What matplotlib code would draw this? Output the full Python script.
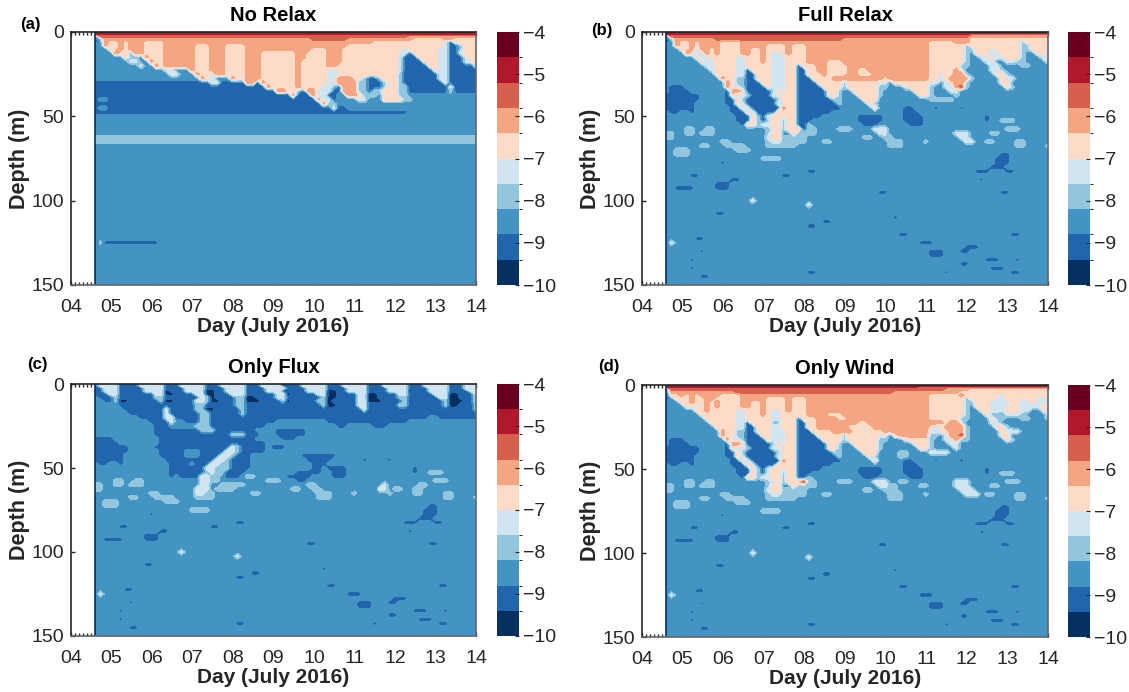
import numpy as np
import matplotlib
matplotlib.use("Agg")
import matplotlib.pyplot as plt
from matplotlib.colors import ListedColormap, BoundaryNorm
from matplotlib.ticker import FixedLocator

plt.rcParams['font.family'] = ['Liberation Sans', 'DejaVu Sans']

# contour bands, lowest first
COLORS = ['#053061', '#2166ac', '#4393c3', '#92c5de', '#d1e5f0',
          '#fddbc7', '#f4a582', '#d6604d', '#b2182b', '#67001f']
LEVELS = [-10, -9.4, -8.8, -8.2, -7.6, -7, -6.4, -5.8, -5.2, -4.6, -4]
CBAR_TICKS = [-10, -9, -8, -7, -6, -5, -4]
DAY_TICKS = [4, 5, 6, 7, 8, 9, 10, 11, 12, 13, 14]
DAY_LABELS = ['04', '05', '06', '07', '08', '09', '10', '11', '12', '13', '14']
DEPTH_TICKS = [0, 50, 100, 150]

DEPTHS = [0, 1, 2.5, 4, 6, 8, 10, 12.5, 15, 17.5, 20, 22.5, 25, 27.5, 30, 32.5, 35, 37.5, 40,
          42.5, 45, 47.5, 50, 52.5, 55, 57.5, 60, 62.5, 65, 67.5, 70, 72.5, 75, 77.5, 80, 82.5,
          85, 87.5, 90, 92.5, 95, 97.5, 100, 102.5, 105, 107.5, 110, 112.5, 115, 117.5, 120,
          122.5, 125, 127.5, 130, 132.5, 135, 137.5, 140, 142.5, 145, 147.5, 150]
DAY_START = 4.6
DAY_END = 14
N_COLS = 76

# Each row reads "band:end_column". Rows not listed are all band 2.
DEEP_ROWS = {
    70: "2:2 3:5 2:14 3:17 2:76",
    72.5: "2:2 3:5 2:66 1:68 2:76",
    75: "2:19 3:23 2:65 1:68 2:76",
    77.5: "2:11 1:12 2:65 1:68 2:76",
    80: "2:64 1:67 2:76",
    82.5: "2:28 1:30 2:61 1:64 2:67 1:69 2:76",
    85: "2:5 1:7 2:23 1:25 2:76",
    87.5: "2:13 1:15 2:62 1:63 2:76",
    90: "2:10 1:13 2:76",
    92.5: "2:2 1:6 2:10 1:13 2:76",
    95: "2:42 1:44 2:66 1:68 2:76",
    100: "2:17 4:18 2:76",
    102.5: "2:28 4:29 2:76",
    107.5: "2:10 1:12 2:76",
    110: "2:45 1:46 2:76",
    112.5: "2:31 1:33 2:76",
    115: "2:28 1:30 2:76",
    120: "2:46 1:48 2:68 1:70 2:76",
    122.5: "2:6 1:8 2:76",
    125: "1:1 4:2 2:50 1:53 2:75 1:76",
    127.5: "2:59 1:62 2:76",
    130: "2:7 1:8 2:52 1:55 2:58 1:60 2:76",
    132.5: "2:52 1:55 2:76",
    135: "2:5 1:6 2:63 1:66 2:69 1:70 2:76",
    137.5: "2:58 1:60 2:76",
    140: "2:5 1:6 2:64 1:67 2:76",
    142.5: "2:28 1:30 2:55 1:56 2:68 1:70 2:76",
    145: "2:7 1:9 2:76",
}

NO_RELAX = {
    0: "9:76",
    1: "8:76",
    2.5: "1:1 7:62 6:76",
    4: "1:1 3:2 6:43 7:50 6:63 5:69 6:71 5:76",
    6: "1:1 2:2 6:3 5:5 6:6 5:7 6:10 5:14 6:55 5:69 4:70 1:71 5:76",
    8: "2:2 6:3 5:5 6:6 5:7 6:10 5:14 6:20 5:23 6:26 5:30 6:50 5:69 4:70 1:72 3:73 5:76",
    10: "2:3 5:5 6:6 5:7 6:10 5:14 6:20 5:23 6:26 5:30 6:43 5:46 6:49 5:61 4:62 5:68 4:70 1:72 3:73 5:76",
    12.5: "2:4 6:5 5:7 3:8 6:10 5:14 6:20 5:23 6:26 5:30 6:33 5:40 6:42 5:46 6:49 5:60 4:62 1:63 5:68 4:70 1:72 4:73 5:76",
    15: "2:6 5:7 3:9 2:10 6:11 5:14 6:20 5:23 6:26 5:30 6:33 5:40 6:42 5:46 6:49 5:60 4:61 1:64 5:68 4:70 1:73 4:74 5:76",
    17.5: "2:7 4:9 2:11 6:12 5:14 6:20 5:23 6:26 5:30 6:33 5:40 6:41 5:46 6:49 5:60 4:61 1:65 5:68 4:70 1:73 4:75 5:76",
    20: "2:9 4:10 2:12 6:13 5:14 6:20 5:23 6:26 5:30 6:33 5:40 6:41 5:46 6:48 5:60 4:61 1:66 5:68 4:70 1:75 4:76",
    22.5: "2:14 4:16 2:19 6:20 5:23 6:26 5:30 6:33 5:40 6:41 5:46 4:48 5:60 4:61 1:67 5:68 4:70 1:76",
    25: "2:15 4:17 2:20 6:21 5:23 4:24 6:26 5:30 6:33 5:40 6:41 5:46 4:49 5:60 3:61 1:68 4:70 1:76",
    27.5: "2:21 6:22 5:23 4:24 2:27 6:28 5:30 6:33 5:40 6:41 5:46 4:48 6:51 5:53 3:54 1:56 3:57 5:60 3:61 1:68 4:70 1:76",
    30: "1:23 4:25 1:30 6:32 1:33 6:34 5:40 6:41 5:46 4:48 6:52 3:54 1:57 3:58 5:60 3:61 1:69 4:70 1:76",
    32.5: "1:34 6:35 5:40 6:41 5:45 4:47 3:48 1:49 6:52 3:54 1:57 3:58 5:60 3:62 1:70 4:71 1:76",
    35: "1:36 6:38 5:40 3:41 1:42 6:44 4:47 1:49 6:52 3:54 1:55 3:57 5:60 3:62 1:70 3:71 1:76",
    37.5: "1:39 6:40 1:43 6:44 4:46 1:48 2:50 6:52 5:53 3:56 2:57 5:60 3:62 2:76",
    40: "1:1 2:3 1:44 6:45 4:47 1:48 2:52 4:54 2:57 5:61 3:63 2:76",
    42.5: "1:45 6:46 3:48 2:76",
    45: "1:1 2:3 1:47 4:48 1:50 2:76",
    47.5: "1:62 2:76",
    62.5: "3:76",
    65: "3:76",
    125: "1:1 3:2 1:13 2:76",
}

FULL_RELAX = {
    0: "9:76",
    1: "8:60 7:76",
    2.5: "1:1 7:60 6:76",
    4: "1:1 3:2 6:10 7:35 6:60 5:76",
    6: "1:1 2:2 6:3 5:5 6:6 5:7 6:11 5:15 6:52 5:57 6:60 5:70 3:71 5:76",
    8: "2:2 6:3 5:5 6:6 5:7 6:11 5:15 6:20 5:24 6:25 5:28 6:52 5:59 3:60 5:70 3:72 5:76",
    10: "2:3 5:5 6:6 4:7 6:9 5:10 6:11 5:15 6:17 5:19 6:20 5:24 6:25 5:28 6:52 5:59 3:61 5:64 4:65 5:70 3:72 5:75 4:76",
    12.5: "2:4 6:5 5:6 4:8 6:9 5:10 6:11 5:15 6:17 5:19 6:20 5:21 4:23 5:24 6:25 5:28 6:52 5:59 3:60 2:61 5:64 4:66 5:70 3:71 2:73 5:75 4:76",
    15: "2:6 5:7 4:9 5:14 4:16 5:19 6:20 5:21 4:24 5:28 6:52 5:59 3:60 2:62 4:64 5:65 4:67 5:70 3:71 2:74 4:76",
    17.5: "2:7 5:8 4:10 5:14 4:16 5:19 6:20 5:21 4:24 5:28 6:32 5:35 6:52 5:59 3:60 2:63 4:65 2:67 4:69 3:71 2:75 4:76",
    20: "2:8 4:10 5:14 4:16 5:21 4:24 5:26 1:27 5:30 6:32 5:36 6:52 5:58 3:60 2:64 4:66 2:70 3:72 2:76",
    22.5: "2:9 4:10 5:14 4:16 1:17 5:21 4:24 5:26 1:28 5:30 6:32 5:36 6:38 5:40 6:52 5:57 6:58 4:59 2:64 4:66 3:67 2:76",
    25: "2:10 5:14 4:16 1:18 5:21 4:24 5:26 1:28 5:31 6:32 5:36 6:38 5:41 6:52 5:54 4:55 5:57 6:59 3:60 2:65 5:67 3:68 2:76",
    27.5: "2:11 6:12 5:14 3:16 1:18 5:21 4:24 5:26 1:29 5:33 6:43 5:44 6:52 5:54 4:55 5:56 6:60 3:61 2:66 5:67 2:67 4:69 2:76",
    30: "2:12 6:13 5:14 3:16 1:19 5:21 4:24 5:26 1:30 5:35 3:36 5:42 4:44 2:45 5:52 4:54 2:55 4:56 5:57 6:59 3:60 2:66 5:68 2:76",
    32.5: "2:1 1:4 2:12 6:13 4:15 3:16 1:20 5:21 4:24 5:26 1:31 5:35 3:36 5:42 3:44 2:47 4:48 5:52 3:53 2:55 4:57 6:58 7:59 3:60 2:67 5:68 3:69 2:76",
    35: "2:1 1:5 2:12 1:13 6:15 5:16 1:21 3:22 5:23 4:24 5:26 1:32 5:34 3:35 2:37 5:42 3:43 2:49 5:52 3:53 2:56 4:58 2:76",
    37.5: "1:7 2:12 1:13 5:14 4:16 3:17 1:21 4:23 5:26 1:32 5:34 3:35 2:38 5:42 3:43 2:50 5:52 3:53 2:57 3:58 2:76",
    40: "1:7 2:12 1:14 5:15 3:16 1:22 3:23 5:26 1:33 3:35 2:39 5:42 2:52 3:57 2:76",
    42.5: "1:6 2:12 1:14 5:15 4:16 1:22 4:24 5:26 1:34 3:35 2:40 5:41 3:42 2:76",
    45: "1:6 2:13 1:15 5:16 4:17 1:23 6:24 5:26 1:35 2:41 5:42 2:47 1:49 2:53 1:54 2:58 1:59 2:76",
    47.5: "2:1 1:3 2:5 1:6 2:13 1:16 5:17 4:18 1:22 5:26 1:33 2:47 1:50 2:76",
    50: "2:14 1:17 5:18 3:19 1:20 4:21 5:23 4:24 5:26 1:31 2:38 1:43 2:47 1:51 2:63 1:64 2:76",
    52.5: "2:14 1:17 5:18 3:19 1:20 3:21 5:23 3:24 5:26 1:29 2:38 1:43 2:47 1:51 2:63 1:64 2:66 3:69 2:76",
    55: "2:15 1:16 5:18 3:19 4:21 5:23 3:24 5:26 1:28 3:29 2:39 1:42 2:48 1:51 2:76",
    57.5: "2:4 3:6 2:8 3:10 2:20 3:21 4:22 5:23 3:24 5:27 1:28 3:30 2:34 3:37 2:41 4:44 2:67 3:70 2:76",
    60: "3:2 2:4 3:6 2:7 3:10 2:20 3:21 5:23 2:25 5:26 3:30 2:42 4:44 2:57 4:60 2:64 3:66 2:76",
    62.5: "3:2 2:20 4:21 5:23 3:28 2:39 3:41 2:43 3:45 2:58 4:60 2:76",
    65: "2:11 3:13 2:20 3:21 4:23 3:28 2:31 3:33 2:44 3:47 2:51 3:52 2:59 4:61 2:63 3:65 2:69 3:71 2:76",
    67.5: "2:7 3:9 2:12 3:16 2:20 3:26 2:44 3:47 2:69 3:71 2:75 3:76",
}
FULL_RELAX.update(DEEP_ROWS)

ONLY_FLUX = {
    0: "1:1 4:5 1:9 4:14 1:17 4:22 1:25 4:30 1:33 4:37 1:41 4:46 1:49 4:54 1:57 4:62 1:65 4:70 1:73 4:76",
    1: "1:1 4:5 1:9 4:14 1:17 4:22 1:25 4:30 1:33 4:37 1:41 4:46 1:49 4:54 1:57 4:62 1:65 4:70 1:73 4:76",
    2.5: "1:2 4:5 1:10 4:14 1:18 4:22 1:26 4:30 1:34 4:38 1:42 4:46 1:50 4:54 1:58 4:62 1:66 4:70 1:73 4:76",
    4: "1:2 4:5 1:10 4:14 0:15 1:18 4:22 0:24 1:26 4:30 1:34 4:37 1:42 4:46 0:48 1:50 4:54 1:58 4:62 0:63 1:66 4:70 1:74 4:76",
    6: "1:3 4:5 1:12 4:14 0:16 1:20 4:22 0:24 1:27 4:30 1:36 4:38 0:39 1:44 4:46 0:48 1:52 4:54 0:56 1:60 4:62 1:67 4:70 0:72 1:75 4:76",
    8: "2:1 1:4 3:5 1:12 3:14 1:21 4:22 3:23 0:24 1:28 3:30 0:32 1:36 4:38 1:45 3:46 0:48 1:52 4:54 0:56 1:60 3:62 1:68 4:70 0:72 1:75 4:76",
    10: "2:2 1:4 3:5 0:7 1:13 3:14 0:16 1:20 4:22 3:23 0:25 1:28 3:30 0:33 1:37 3:38 0:39 1:44 3:46 0:47 1:52 4:54 0:57 1:61 3:62 1:69 3:70 0:73 1:75 4:76",
    12.5: "2:5 1:20 3:22 1:28 3:30 1:45 3:46 0:48 1:52 4:54 1:60 3:62 1:69 3:70 0:72 1:75 3:76",
    15: "2:6 1:14 4:15 1:20 3:22 0:24 1:29 3:30 1:53 4:54 1:75 3:76",
    17.5: "2:7 1:14 4:15 1:21 3:23 1:29 3:30 1:76",
    20: "2:9 1:14 4:16 1:21 3:23 1:66 2:68 1:76",
    22.5: "2:11 1:15 4:16 2:18 1:21 3:23 1:36 2:46 1:62 2:76",
    25: "2:12 1:15 2:20 3:23 1:34 2:48 1:50 2:55 1:58 2:76",
    27.5: "2:12 1:21 3:24 1:32 2:36 1:42 2:76",
    30: "2:12 1:27 3:30 1:33 2:36 1:42 2:76",
    32.5: "1:4 2:13 1:32 2:37 1:40 2:76",
    35: "1:5 2:13 1:34 2:76",
    37.5: "1:7 2:12 1:27 4:28 3:29 1:34 2:35 1:38 2:76",
    40: "1:7 2:13 1:18 2:21 1:26 4:28 3:29 1:34 2:76",
    42.5: "1:6 2:13 1:18 2:21 1:25 4:27 3:28 1:31 2:41 1:48 2:76",
    45: "1:6 2:14 1:24 4:26 3:27 1:31 2:42 1:47 2:53 1:54 2:58 1:59 2:76",
    47.5: "2:1 1:3 2:5 1:6 2:15 1:19 2:20 1:23 4:25 3:27 1:31 2:43 1:46 2:76",
    50: "2:15 1:22 4:24 3:27 1:31 2:43 1:45 2:46 1:50 2:63 1:64 2:76",
    52.5: "2:15 1:22 3:23 4:24 3:26 1:30 2:40 1:45 2:47 1:50 2:63 1:64 2:66 3:69 2:76",
    55: "2:15 1:16 2:17 1:21 4:23 3:25 2:26 1:29 2:30 3:32 2:38 1:43 2:47 1:50 2:76",
    57.5: "2:4 3:6 2:8 3:10 2:21 4:23 3:25 2:34 3:37 2:40 1:42 2:67 3:70 2:76",
    60: "3:2 2:4 3:6 2:7 3:10 2:21 4:23 2:25 3:30 2:42 3:44 2:57 4:58 2:64 3:66 2:76",
    62.5: "3:2 2:20 4:23 2:24 3:28 2:39 3:41 2:43 3:45 2:55 1:56 4:58 2:59 3:61 2:63 3:65 2:76",
    65: "2:11 3:13 2:20 4:22 3:24 2:31 3:33 2:44 3:47 2:51 3:52 2:58 3:59 2:63 3:65 2:69 3:71 2:76",
    67.5: "2:7 3:9 2:12 3:16 2:20 3:24 2:44 3:47 2:69 3:71 2:75 3:76",
}
ONLY_FLUX.update(DEEP_ROWS)

ONLY_WIND = {
    0: "9:76",
    1: "8:50 7:76",
    2.5: "1:1 7:55 6:60 5:76",
    4: "1:1 6:14 7:45 6:58 5:76",
    6: "1:1 5:3 6:4 5:5 6:6 5:7 6:11 5:15 6:52 5:58 6:59 5:66 4:67 5:76",
    8: "1:1 2:2 5:5 6:6 5:8 6:10 5:15 6:20 5:24 6:25 5:28 6:52 5:59 3:60 5:65 4:67 5:70 4:71 5:73 4:76",
    10: "2:3 5:5 6:6 5:8 6:9 5:10 6:11 5:15 6:17 5:19 6:20 5:24 6:25 5:28 6:52 5:59 3:61 5:64 4:68 5:70 4:72 5:73 4:76",
    12.5: "2:4 5:6 4:7 5:8 6:9 5:10 6:11 5:15 6:17 5:19 6:20 5:24 6:25 5:28 6:52 5:59 3:60 2:61 5:64 4:68 5:69 4:74 5:76",
    15: "2:6 5:8 6:9 5:14 4:16 5:19 6:20 5:21 4:23 5:24 6:25 5:28 6:52 5:59 3:60 2:62 5:64 4:67 5:70 4:72 2:74 4:76",
    17.5: "2:7 5:10 5:14 4:16 5:19 6:20 5:21 4:23 5:28 6:32 5:35 6:52 5:59 3:60 2:63 5:64 3:66 2:67 4:70 3:71 2:75 4:76",
    20: "2:8 5:14 4:16 5:21 4:23 5:26 1:27 5:30 6:34 5:36 6:52 5:58 3:60 2:64 5:65 3:67 2:70 3:72 2:75 3:76",
    22.5: "2:9 5:14 4:16 1:17 5:21 3:23 5:26 1:28 5:30 6:38 5:40 6:52 6:55 5:56 6:58 4:59 2:64 4:66 2:76",
    25: "2:10 5:14 4:16 1:18 5:21 4:23 5:26 1:28 5:30 6:36 5:41 6:52 5:53 4:55 6:59 3:60 2:65 5:67 3:68 2:76",
    27.5: "2:11 6:12 5:14 3:16 1:18 5:21 4:24 5:26 1:29 5:33 6:37 5:39 3:40 5:43 6:52 4:54 5:56 6:59 3:60 2:66 5:67 4:70 2:76",
    30: "2:11 6:12 5:14 3:16 1:19 5:21 4:24 5:26 1:30 5:35 3:36 5:42 4:44 2:45 5:46 6:52 3:54 2:55 4:56 6:58 7:59 3:60 2:66 5:68 2:76",
    32.5: "2:1 1:4 2:12 6:13 4:15 3:16 1:20 5:21 4:24 5:26 1:31 5:35 3:36 5:42 3:44 2:47 4:48 5:52 3:53 2:55 4:57 6:58 3:60 2:67 5:68 3:69 2:76",
    35: "2:1 1:5 2:12 1:13 6:15 5:16 1:21 3:22 5:23 4:24 5:26 1:32 5:34 3:35 2:37 5:42 3:43 2:49 5:52 3:53 2:56 4:58 2:76",
    37.5: "1:7 2:12 1:13 5:14 4:16 3:17 1:21 4:23 5:26 1:32 5:34 3:35 2:38 5:42 3:43 2:50 5:52 3:53 2:57 4:58 2:76",
    40: "1:7 2:12 1:14 5:15 3:16 1:22 3:23 5:26 1:33 3:35 2:39 5:42 2:46 3:48 2:52 4:56 2:76",
    42.5: "1:6 2:12 1:14 5:15 4:16 1:22 4:24 5:26 1:34 3:35 2:40 5:41 3:42 2:46 3:48 2:76",
    45: "1:6 2:13 1:15 5:16 4:17 1:23 6:24 5:26 1:35 2:41 5:42 2:47 1:49 2:53 1:54 2:58 1:59 2:76",
    47.5: "2:1 1:3 2:5 1:6 2:13 1:16 5:17 4:18 1:22 5:26 1:33 2:47 1:50 2:76",
    50: "2:14 1:17 5:18 3:19 1:20 4:21 5:23 4:24 5:26 1:31 2:38 1:43 2:47 1:51 2:63 1:64 2:76",
    52.5: "2:14 1:17 5:18 3:19 1:20 4:21 5:23 3:24 5:26 1:29 2:38 1:43 2:47 1:51 2:63 1:64 2:66 3:69 2:76",
    55: "2:15 1:16 5:18 3:19 4:21 5:23 3:24 5:26 1:28 3:29 2:39 1:42 2:48 1:51 2:76",
    57.5: "2:4 3:6 2:8 3:10 2:20 3:21 4:22 5:23 3:24 5:27 7:28 3:30 2:34 3:37 2:41 4:44 2:46 3:48 2:57 4:60 2:67 3:70 2:76",
    60: "3:2 2:4 3:6 2:7 3:10 2:20 3:21 5:23 2:25 5:26 3:30 2:42 4:44 3:46 2:50 3:52 2:57 4:60 2:64 3:66 2:76",
    62.5: "3:2 2:20 4:21 5:23 3:28 2:39 3:41 2:43 3:46 2:58 4:61 2:76",
    65: "2:11 3:13 2:20 3:21 4:23 3:28 2:31 3:33 2:44 3:47 2:51 3:52 2:59 4:62 2:63 3:65 2:69 3:71 2:76",
    67.5: "2:7 3:9 2:12 3:16 2:20 3:26 2:44 3:47 2:69 3:71 2:75 3:76",
}
ONLY_WIND.update(DEEP_ROWS)

PANELS = [
    ("No Relax", "(a)", NO_RELAX, 71, 32, 476, 285, 497, (20, 24)),
    ("Full Relax", "(b)", FULL_RELAX, 642, 32, 1048, 285, 1068, (591, 30)),
    ("Only Flux", "(c)", ONLY_FLUX, 71, 384, 476, 636, 497, (27, 365)),
    ("Only Wind", "(d)", ONLY_WIND, 642, 385, 1048, 637, 1068, (598, 366)),
]


def expand_row(text):
    row = np.zeros(N_COLS)
    start = 0
    for part in text.split():
        band, end = part.split(":")
        row[start:int(end)] = int(band)
        start = max(start, int(end))
    return row


def build_grid(rows):
    grid = np.array([expand_row(rows.get(d, "2:76")) for d in DEPTHS])
    # middle of each band
    return -10 + 0.6 * (grid + 0.5)


W, H = 1129, 692
fig = plt.figure(figsize=(W / 100, H / 100), dpi=100)
cmap = ListedColormap(COLORS)
norm = BoundaryNorm(LEVELS, cmap.N)
days = np.linspace(DAY_START, DAY_END, N_COLS)

for title, tag, rows, x0, y0, x1, y1, cx, tag_xy in PANELS:
    ax = fig.add_axes([x0 / W, 1 - y1 / H, (x1 - x0) / W, (y1 - y0) / H])
    cs = ax.contourf(days, DEPTHS, build_grid(rows), levels=LEVELS, cmap=cmap, norm=norm)
    ax.axvline(DAY_START, color='#053061', lw=1.2)
    ax.set_xlim(4, 14)
    ax.set_ylim(150, 0)
    ax.set_axisbelow(True)
    ax.set_xticks(DAY_TICKS)
    ax.set_xticklabels(DAY_LABELS)
    ax.set_yticks(DEPTH_TICKS)
    ax.xaxis.set_minor_locator(FixedLocator(np.arange(4.1, 4.6, 0.1)))
    ax.tick_params(axis='both', which='major', direction='in', length=3, width=1, labelsize=14,
                   colors='#262626')
    ax.tick_params(axis='x', which='major', pad=10)
    ax.tick_params(axis='y', which='major', pad=5)
    ax.tick_params(axis='x', which='both', top=True)
    ax.tick_params(axis='x', which='minor', direction='in', length=2, width=1, colors='#262626')
    for side in ['left', 'top']:
        ax.spines[side].set_color('#262626')
    for side in ['right', 'bottom']:
        ax.spines[side].set_color('#666666')
    for spine in ax.spines.values():
        spine.set_linewidth(1.2)
    ax.set_xlabel("Day (July 2016)", fontsize=15, fontweight='bold', color='#262626', labelpad=1)
    ax.set_ylabel("Depth (m)", fontsize=15.5, fontweight='bold', color='#262626', labelpad=1)
    ax.set_title(title, fontsize=14.5, fontweight='bold', pad=8)
    fig.text(tag_xy[0] / W, 1 - tag_xy[1] / H, tag, fontsize=12, fontweight='bold', va='center')

    cax = fig.add_axes([cx / W, 1 - y1 / H, 22 / W, (y1 - y0) / H])
    cbar = fig.colorbar(cs, cax=cax, ticks=CBAR_TICKS, spacing='proportional')
    cbar.outline.set_visible(False)
    cbar.ax.tick_params(direction='in', length=3, width=0.8, labelsize=14, colors='#262626', pad=3)
    cbar.ax.minorticks_off()

fig.savefig("out.png", dpi=100)
